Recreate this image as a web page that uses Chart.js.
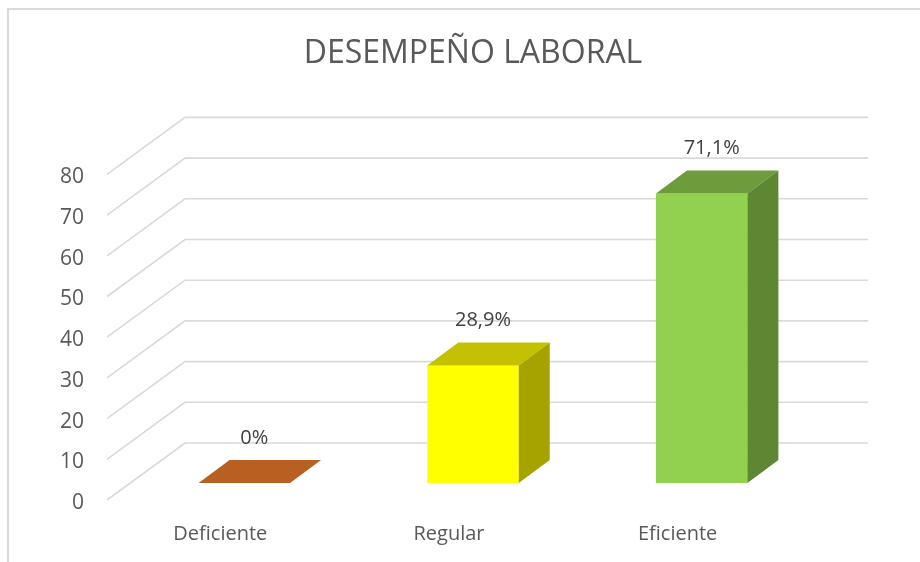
<!DOCTYPE html>
<html>
<head>
<meta charset="utf-8">
<script src="https://cdn.jsdelivr.net/npm/chart.js@4.4.1/dist/chart.umd.min.js"></script>
<style>
  html, body { margin: 0; padding: 0; background: #fff; }
  #marco { position: absolute; left: 0; top: 0; width: 920px; height: 562px; overflow: hidden; }
  #borde { position: absolute; left: 7px; top: 8px; width: 930px; height: 580px; border-left: 2px solid #d9d9d9; border-top: 2px solid #d9d9d9; }
  canvas { position: absolute; left: 0; top: 0; }
</style>
</head>
<body>
<div id="marco">
  <div id="borde"></div>
  <canvas id="grafico" width="920" height="562"></canvas>
</div>
<script>
const titulo = "DESEMPEÑO LABORAL";
const categorias = ["Deficiente", "Regular", "Eficiente"];
const porcentajes = [0, 28.9, 71.1];
const ticksY = [0, 10, 20, 30, 40, 50, 60, 70, 80];

const coloresFrente = ["#C0652A", "#FFFF00", "#92D050"];
const coloresArriba = ["#B85F22", "#C4C100", "#6E9C3C"];
const coloresLado = ["#9A4F1C", "#A6A300", "#5E8733"];

const fuente = "'Open Sans', sans-serif";
const gris = "#595959";

// profundidad de la barra y del fondo (perspectiva oblicua)
const BARRA_DX = 31, BARRA_DY = -23;
const FONDO_DX = 55, FONDO_DY = -40;
const PISO_DX = -23, PISO_DY = 17;

function formatoPorcentaje(v) {
  return String(v).replace(".", ",") + "%";
}

const efecto3D = {
  id: "efecto3D",
  beforeDatasetsDraw(chart) {
    const ctx = chart.ctx;
    const escalaY = chart.scales.y;
    const area = chart.chartArea;

    ctx.save();
    ctx.strokeStyle = "#D9D9D9";
    ctx.lineWidth = 1.6;
    ticksY.forEach((v) => {
      const py = escalaY.getPixelForValue(v);
      ctx.beginPath();
      ctx.moveTo(area.left + PISO_DX, py + PISO_DY);
      ctx.lineTo(area.left + FONDO_DX, py + FONDO_DY);
      ctx.lineTo(area.right + FONDO_DX - 3, py + FONDO_DY);
      ctx.stroke();
    });
    ctx.restore();
  },
  afterDatasetsDraw(chart) {
    const ctx = chart.ctx;
    const meta = chart.getDatasetMeta(0);

    ctx.save();
    meta.data.forEach((barra, i) => {
      const { x, y, base, width } = barra.getProps(["x", "y", "base", "width"], true);
      const izq = x - width / 2;
      const der = x + width / 2;

      // cara superior
      ctx.fillStyle = coloresArriba[i];
      ctx.beginPath();
      ctx.moveTo(izq, y);
      ctx.lineTo(der, y);
      ctx.lineTo(der + BARRA_DX, y + BARRA_DY);
      ctx.lineTo(izq + BARRA_DX, y + BARRA_DY);
      ctx.closePath();
      ctx.fill();

      // cara lateral
      if (base - y > 0.5) {
        ctx.fillStyle = coloresLado[i];
        ctx.beginPath();
        ctx.moveTo(der, y);
        ctx.lineTo(der + BARRA_DX, y + BARRA_DY);
        ctx.lineTo(der + BARRA_DX, base + BARRA_DY);
        ctx.lineTo(der, base);
        ctx.closePath();
        ctx.fill();
      }

      // etiqueta
      ctx.fillStyle = "#404040";
      ctx.font = "20px " + fuente;
      ctx.textAlign = "center";
      ctx.textBaseline = "middle";
      ctx.fillText(formatoPorcentaje(porcentajes[i]), x + 10, y + BARRA_DY - 22);
    });
    ctx.restore();
  }
};

new Chart(document.getElementById("grafico"), {
  type: "bar",
  data: {
    labels: categorias,
    datasets: [
      {
        data: porcentajes,
        backgroundColor: coloresFrente,
        borderWidth: 0,
        categoryPercentage: 0.4,
        barPercentage: 1
      }
    ]
  },
  options: {
    responsive: false,
    animation: false,
    layout: {
      padding: { left: 0, right: 104, top: 0, bottom: 0 }
    },
    plugins: {
      legend: { display: false },
      tooltip: { enabled: false },
      title: {
        display: true,
        text: titulo,
        fullSize: false,
        color: gris,
        font: { family: fuente, size: 32, weight: "normal" },
        padding: { top: 35, bottom: 84 }
      }
    },
    scales: {
      x: {
        grid: { display: false, drawTicks: false },
        border: { display: false },
        ticks: {
          color: gris,
          font: { family: fuente, size: 20 },
          labelOffset: -24,
          padding: 39
        },
        afterFit(escala) {
          escala.height = 79;
        }
      },
      y: {
        min: 0,
        max: 80,
        grid: { display: false, drawTicks: false },
        border: { display: false },
        ticks: {
          stepSize: 10,
          color: gris,
          font: { family: fuente, size: 21 },
          labelOffset: 20,
          padding: 46
        },
        afterFit(escala) {
          escala.width = 130;
        }
      }
    }
  },
  plugins: [efecto3D]
});
</script>
</body>
</html>
